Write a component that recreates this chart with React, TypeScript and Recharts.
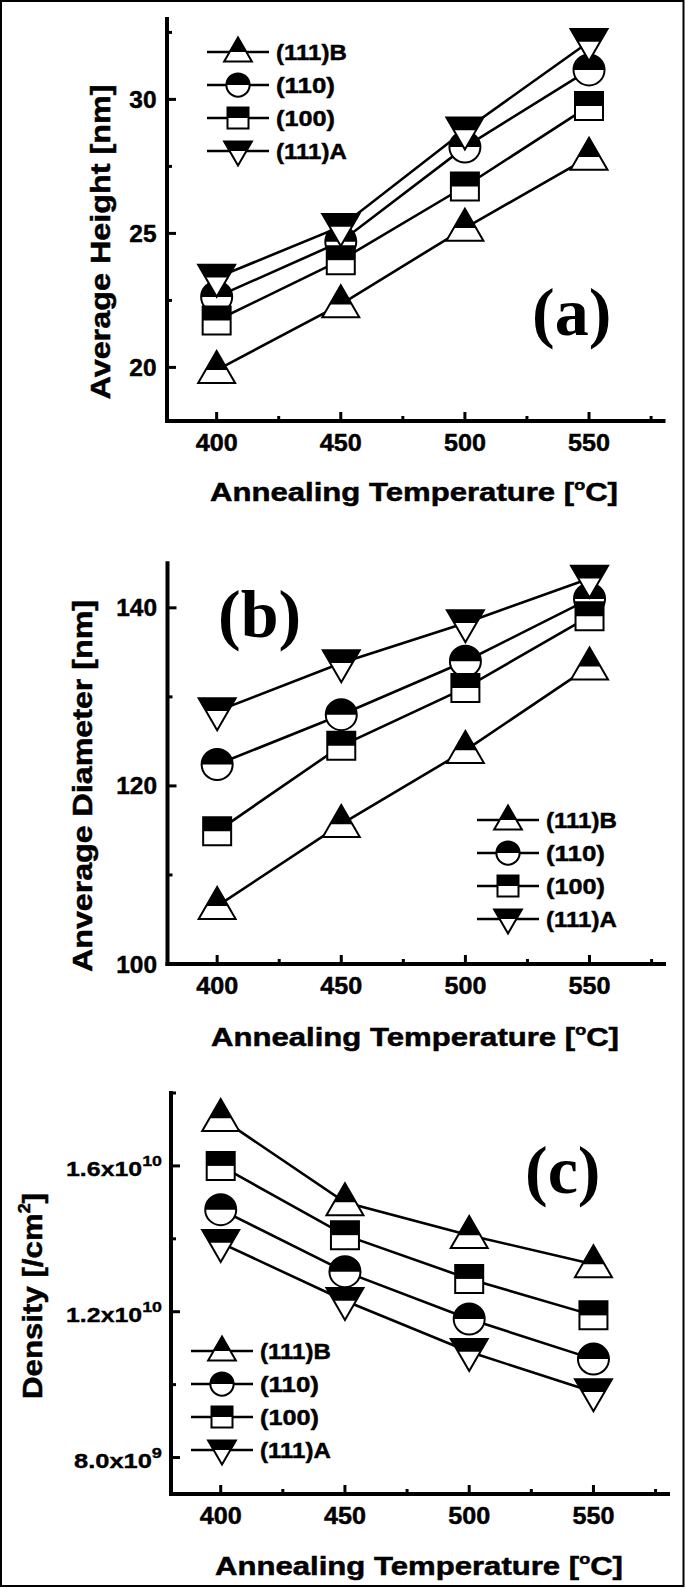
import React from 'react';
import { LineChart, Line, XAxis, YAxis, Legend } from 'recharts';

const SANS = '"Liberation Sans", Arial, sans-serif';
const SERIF = '"Liberation Serif", "Times New Roman", serif';

// ---------- data ----------
const temperatures = [400, 450, 500, 550];
const seriesNames = ['(111)B', '(110)', '(100)', '(111)A'];
const seriesKeys = ['b111', 's110', 's100', 'a111'];
const markerKinds = ['up', 'circle', 'square', 'down'];

// (a) average height [nm]
const heightB111 = [19.9, 22.35, 25.2, 27.85];
const height110 = [22.63, 24.69, 28.22, 31.1];
const height100 = [21.75, 24.0, 26.75, 29.75];
const heightA111 = [23.35, 25.25, 28.85, 32.15];

// (b) average diameter [nm]
const diameterB111 = [106.5, 115.7, 124.0, 133.4];
const diameter110 = [122.4, 128.0, 134.0, 141.0];
const diameter100 = [114.9, 124.5, 131.0, 139.05];
const diameterA111 = [128.4, 133.8, 138.3, 143.3];

// (c) density [/cm2]
const densityB111 = [1.731e10, 1.5e10, 1.41e10, 1.33e10];
const density110 = [1.48e10, 1.31e10, 1.18e10, 1.07e10];
const density100 = [1.6e10, 1.41e10, 1.29e10, 1.19e10];
const densityA111 = [1.389e10, 1.23e10, 1.09e10, 0.98e10];

// ticks
const tempTicks = [400, 425, 450, 475, 500, 525, 550, 575];
const tempLabels = [400, 450, 500, 550];
const heightTicks = [20, 22.5, 25, 27.5, 30, 32.5];
const heightLabels = [20, 25, 30];
const diameterTicks = [100, 110, 120, 130, 140];
const diameterLabels = [100, 120, 140];
const densityTicks = [8e9, 1e10, 1.2e10, 1.4e10, 1.6e10, 1.8e10];
const densityLabels = [8e9, 1.2e10, 1.6e10];

const buildRows = (cols: number[][]) =>
  temperatures.map((t, i) => {
    const row: any = { t };
    seriesKeys.forEach((k, j) => (row[k] = cols[j][i]));
    return row;
  });

const heightRows = buildRows([heightB111, height110, height100, heightA111]);
const diameterRows = buildRows([diameterB111, diameter110, diameter100, diameterA111]);
const densityRows = buildRows([densityB111, density110, density100, densityA111]);

// ---------- markers ----------
function HalfMarker({ kind, cx, cy, scale = 1 }: any) {
  const sw = 2;
  if (cx == null || cy == null) return null;
  let outline = '';
  let upper = '';
  if (kind === 'up') {
    const w = 37 * scale, h = 32 * scale;
    const top = cy - 0.6 * h, bot = cy + 0.4 * h;
    const hw = (w / 2) * 0.6;
    outline = `M${cx},${top} L${cx + w / 2},${bot} L${cx - w / 2},${bot} Z`;
    upper = `M${cx},${top} L${cx + hw},${cy} L${cx - hw},${cy} Z`;
  } else if (kind === 'down') {
    const w = 37 * scale, h = 32 * scale;
    const top = cy - 0.4 * h, bot = cy + 0.6 * h;
    const hw = (w / 2) * 0.6;
    outline = `M${cx - w / 2},${top} L${cx + w / 2},${top} L${cx},${bot} Z`;
    upper = `M${cx - w / 2},${top} L${cx + w / 2},${top} L${cx + hw},${cy} L${cx - hw},${cy} Z`;
  } else if (kind === 'circle') {
    const r = 15.5 * scale;
    outline = `M${cx - r},${cy} A${r},${r} 0 1 1 ${cx + r},${cy} A${r},${r} 0 1 1 ${cx - r},${cy} Z`;
    upper = `M${cx - r},${cy} A${r},${r} 0 0 1 ${cx + r},${cy} Z`;
  } else {
    const a = 28 * scale;
    outline = `M${cx - a / 2},${cy - a / 2} h${a} v${a} h${-a} Z`;
    upper = `M${cx - a / 2},${cy - a / 2} h${a} v${a / 2} h${-a} Z`;
  }
  return (
    <g>
      <path d={outline} fill="#fff" />
      <path d={upper} fill="#000" />
      <path d={outline} fill="none" stroke="#000" strokeWidth={sw} />
    </g>
  );
}

const dotRenderer = (kind: string) => (props: any) => (
  <HalfMarker key={`${kind}-${props.index}`} kind={kind} cx={props.cx} cy={props.cy} />
);

const textStyle = {
  fontFamily: SANS,
  fontWeight: 'bold' as const,
  fill: '#000',
  stroke: '#000',
  strokeWidth: 0.45,
};

// ---------- ticks ----------
const xTick = (props: any) => {
  const { x, y, payload } = props;
  const v = payload.value;
  const major = tempLabels.includes(v);
  const s = String(v);
  return (
    <g>
      <line x1={x} x2={x} y1={y} y2={y - (major ? 9 : 5)} stroke="#000" strokeWidth={3} />
      {major && (
        <text x={x} y={y + 30} textAnchor="middle" {...textStyle} fontSize={24} textLength={s.length * 14} lengthAdjust="spacingAndGlyphs">
          {s}
        </text>
      )}
    </g>
  );
};

const makeYTick = (labels: number[]) => (props: any) => {
  const { x, y, payload } = props;
  const v = payload.value;
  const major = labels.includes(v);
  const s = String(v);
  return (
    <g>
      <line x1={x} x2={x + (major ? 9 : 5)} y1={y} y2={y} stroke="#000" strokeWidth={3} />
      {major && (
        <text x={x - 10.5} y={y + 8.5} textAnchor="end" {...textStyle} fontSize={24} textLength={s.length * 13.6} lengthAdjust="spacingAndGlyphs">
          {s}
        </text>
      )}
    </g>
  );
};

const densityTick = (props: any) => {
  const { x, y, payload } = props;
  const v = payload.value;
  const major = densityLabels.includes(v);
  const e = Math.floor(Math.log10(v) + 1e-9);
  const mant = (v / Math.pow(10, e)).toFixed(1) + 'x10';
  return (
    <g>
      <line x1={x} x2={x + (major ? 9 : 5)} y1={y} y2={y} stroke="#000" strokeWidth={3} />
      {major && (
        <text
          x={x - 9}
          y={y + 10}
          textAnchor="end"
          {...textStyle}
          strokeWidth={0.35}
          fontSize={21}
          textLength={e >= 10 ? 96 : 88}
          lengthAdjust="spacingAndGlyphs"
        >
          {mant}
          <tspan dy={-10} fontSize={15}>
            {String(e)}
          </tspan>
        </text>
      )}
    </g>
  );
};

// ---------- legend ----------
const legendContent = () => (
  <svg width={160} height={140} style={{ display: 'block' }}>
    {seriesNames.map((name, i) => {
      const y = 20 + i * 33;
      return (
        <g key={name}>
          <line x1={7} x2={69} y1={y} y2={y} stroke="#000" strokeWidth={2.6} />
          <HalfMarker kind={markerKinds[i]} cx={38} cy={y} scale={0.75} />
          <text x={76} y={y + 8} {...textStyle} fontSize={22} textLength={name.length * 11.8} lengthAdjust="spacingAndGlyphs">
            {name}
          </text>
        </g>
      );
    })}
  </svg>
);

// ---------- panel ----------
function Panel({ top, height, plotTop, plotBottom, plotLeft, plotRight, rows, yDomain, yTicks, yTick, legendLeft, legendTop }: any) {
  return (
    <div style={{ position: 'absolute', left: 0, top, width: 685, height }}>
      <LineChart
        width={685}
        height={height}
        data={rows}
        margin={{ top: plotTop, right: 685 - plotRight, bottom: 0, left: 0 }}
      >
        <XAxis
          dataKey="t"
          type="number"
          domain={[380, 580]}
          ticks={tempTicks}
          interval={0}
          tickSize={0}
          tickMargin={0}
          tickLine={false}
          tick={xTick}
          height={height - plotBottom}
          axisLine={{ stroke: '#000', strokeWidth: 4, strokeLinecap: 'square' }}
          allowDataOverflow
        />
        <YAxis
          type="number"
          domain={yDomain}
          ticks={yTicks}
          interval={0}
          tickSize={0}
          tickMargin={0}
          tickLine={false}
          tick={yTick}
          width={plotLeft}
          axisLine={{ stroke: '#000', strokeWidth: 4, strokeLinecap: 'square' }}
          allowDataOverflow
        />
        <Legend
          layout="vertical"
          align="center"
          verticalAlign="middle"
          content={legendContent}
          wrapperStyle={{ position: 'absolute', left: legendLeft, top: legendTop, width: 160, height: 140 }}
        />
        {seriesKeys.map((k, i) => (
          <Line
            key={k}
            dataKey={k}
            name={seriesNames[i]}
            type="linear"
            stroke="#000"
            strokeWidth={2.6}
            dot={dotRenderer(markerKinds[i])}
            activeDot={false}
            isAnimationActive={false}
          />
        ))}
      </LineChart>
    </div>
  );
}

function Title({ x, y, len, size, rotate, children }: any) {
  return (
    <text
      x={x}
      y={y}
      textAnchor="middle"
      {...textStyle}
      strokeWidth={0.5}
      fontSize={size}
      textLength={len}
      lengthAdjust="spacingAndGlyphs"
      transform={rotate ? `rotate(-90 ${x} ${y})` : undefined}
    >
      {children}
    </text>
  );
}

export default function App() {
  return (
    <div style={{ position: 'absolute', left: 0, top: 0, width: 685, height: 1588, background: '#fff', overflow: 'hidden' }}>
      <svg width={685} height={1588} style={{ position: 'absolute', left: 0, top: 0 }}>
        <rect x={1} y={1} width={682.5} height={1585} fill="none" stroke="#000" strokeWidth={2} />
        <Title x={414} y={501} len={408} size={26}>Annealing Temperature [<tspan dy={-11} fontSize={15}>o</tspan><tspan dy={11}>C]</tspan></Title>
        <Title x={110} y={242} len={315} size={28} rotate>Average Height [nm]</Title>
        <Title x={415} y={1046} len={408} size={26}>Annealing Temperature [<tspan dy={-11} fontSize={15}>o</tspan><tspan dy={11}>C]</tspan></Title>
        <Title x={92} y={786} len={372} size={27} rotate>Anverage Diameter [nm]</Title>
        <Title x={419} y={1575} len={408} size={26}>Annealing Temperature [<tspan dy={-11} fontSize={15}>o</tspan><tspan dy={11}>C]</tspan></Title>
        <Title x={42} y={1296} len={206} size={28} rotate>Density [/cm<tspan dy={-12} fontSize={16}>2</tspan><tspan dy={12}>]</tspan></Title>
        <text x={532} y={335} fontFamily={SERIF} fontWeight="bold" fontSize={68} fill="#000">(a)</text>
        <text x={218} y={637} fontFamily={SERIF} fontWeight="bold" fontSize={68} fill="#000">(b)</text>
        <text x={525} y={1193} fontFamily={SERIF} fontWeight="bold" fontSize={68} fill="#000">(c)</text>
      </svg>
      <Panel
        top={0}
        height={520}
        plotTop={19}
        plotBottom={421}
        plotLeft={167}
        plotRight={663.5}
        rows={heightRows}
        yDomain={[18, 33]}
        yTicks={heightTicks}
        yTick={makeYTick(heightLabels)}
        legendLeft={200}
        legendTop={32}
      />
      <Panel
        top={520}
        height={540}
        plotTop={43.3}
        plotBottom={444}
        plotLeft={167.5}
        plotRight={664}
        rows={diameterRows}
        yDomain={[100, 145]}
        yTicks={diameterTicks}
        yTick={makeYTick(diameterLabels)}
        legendLeft={470}
        legendTop={280}
      />
      <Panel
        top={1060}
        height={528}
        plotTop={33}
        plotBottom={434}
        plotLeft={171}
        plotRight={668}
        rows={densityRows}
        yDomain={[7e9, 1.8e10]}
        yTicks={densityTicks}
        yTick={densityTick}
        legendLeft={184}
        legendTop={271}
      />
    </div>
  );
}
